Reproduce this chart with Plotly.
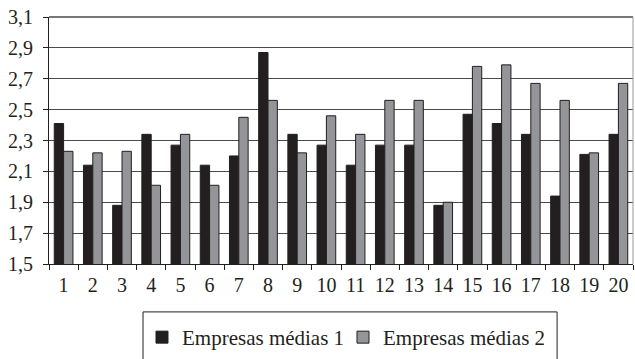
import plotly.graph_objects as go

# Company indices on the x axis
empresas = [str(i) for i in range(1, 21)]

# Scores for the two groups of medium-sized companies
medias_1 = [2.41, 2.14, 1.88, 2.34, 2.27, 2.14, 2.20, 2.87, 2.34, 2.27,
            2.14, 2.27, 2.27, 1.88, 2.47, 2.41, 2.34, 1.94, 2.21, 2.34]
medias_2 = [2.23, 2.22, 2.23, 2.01, 2.34, 2.01, 2.45, 2.56, 2.22, 2.46,
            2.34, 2.56, 2.56, 1.90, 2.78, 2.79, 2.67, 2.56, 2.22, 2.67]

serie_nomes = ["Empresas médias 1", "Empresas médias 2"]
y_ticks = [1.5, 1.7, 1.9, 2.1, 2.3, 2.5, 2.7, 2.9, 3.1]

FONT = dict(family="'Liberation Serif', serif", size=20, color="#231f20")
LEGEND_FONT = dict(family="'Liberation Serif', serif", size=21, color="#231f20")
DARK = "#231f20"

fig = go.Figure()
fig.add_trace(go.Bar(
    x=empresas, y=medias_1, name=serie_nomes[0],
    marker=dict(color=DARK, line=dict(color=DARK, width=1)),
))
fig.add_trace(go.Bar(
    x=empresas, y=medias_2, name=serie_nomes[1],
    marker=dict(color="#939598", line=dict(color=DARK, width=1)),
))

fig.update_layout(
    width=635, height=359, autosize=False,
    margin=dict(l=49, r=2, t=17, b=95),
    paper_bgcolor="white", plot_bgcolor="white",
    font=FONT,
    separators=",.",
    barmode="group", bargap=0.36, bargroupgap=0,
    showlegend=True,
    legend=dict(
        orientation="h",
        xref="container", yref="container",
        x=0.2236, xanchor="left", y=0.117, yanchor="top",
        borderwidth=0, bgcolor="rgba(0,0,0,0)",
        font=LEGEND_FONT, itemwidth=30, tracegroupgap=0,
        entrywidth=156, entrywidthmode="pixels",
    ),
)

fig.update_xaxes(
    type="category", tickson="boundaries",
    ticks="outside", ticklen=5, tickcolor=DARK, tickwidth=1,
    showline=True, linecolor=DARK, linewidth=1,
    showgrid=False, tickfont=FONT, ticklabelstandoff=3,
)
fig.update_yaxes(
    range=[1.5, 3.1], tickvals=y_ticks, tickformat=".1f",
    ticks="outside", ticklen=5, tickcolor=DARK, tickwidth=1,
    showline=True, linecolor=DARK, linewidth=1,
    showgrid=True, gridcolor="#4a4a4a", gridwidth=1.4,
    zeroline=False, tickfont=FONT, ticklabelstandoff=6,
)

# Frame: top edge and lighter right edge of the plot area
fig.add_shape(type="line", xref="paper", yref="paper", x0=0, x1=1, y0=1, y1=1,
              line=dict(color="#4a4a4a", width=1.4))
fig.add_shape(type="line", xref="paper", yref="paper", x0=1, x1=1, y0=0, y1=1,
              line=dict(color="#999999", width=1))

# Legend frame, running past the bottom edge of the figure
fig.add_shape(type="rect", xref="paper", yref="paper",
              x0=0.161, x1=0.870, y0=-0.43, y1=-0.194,
              line=dict(color=DARK, width=1), fillcolor="rgba(0,0,0,0)")

fig.write_html("out.html")
